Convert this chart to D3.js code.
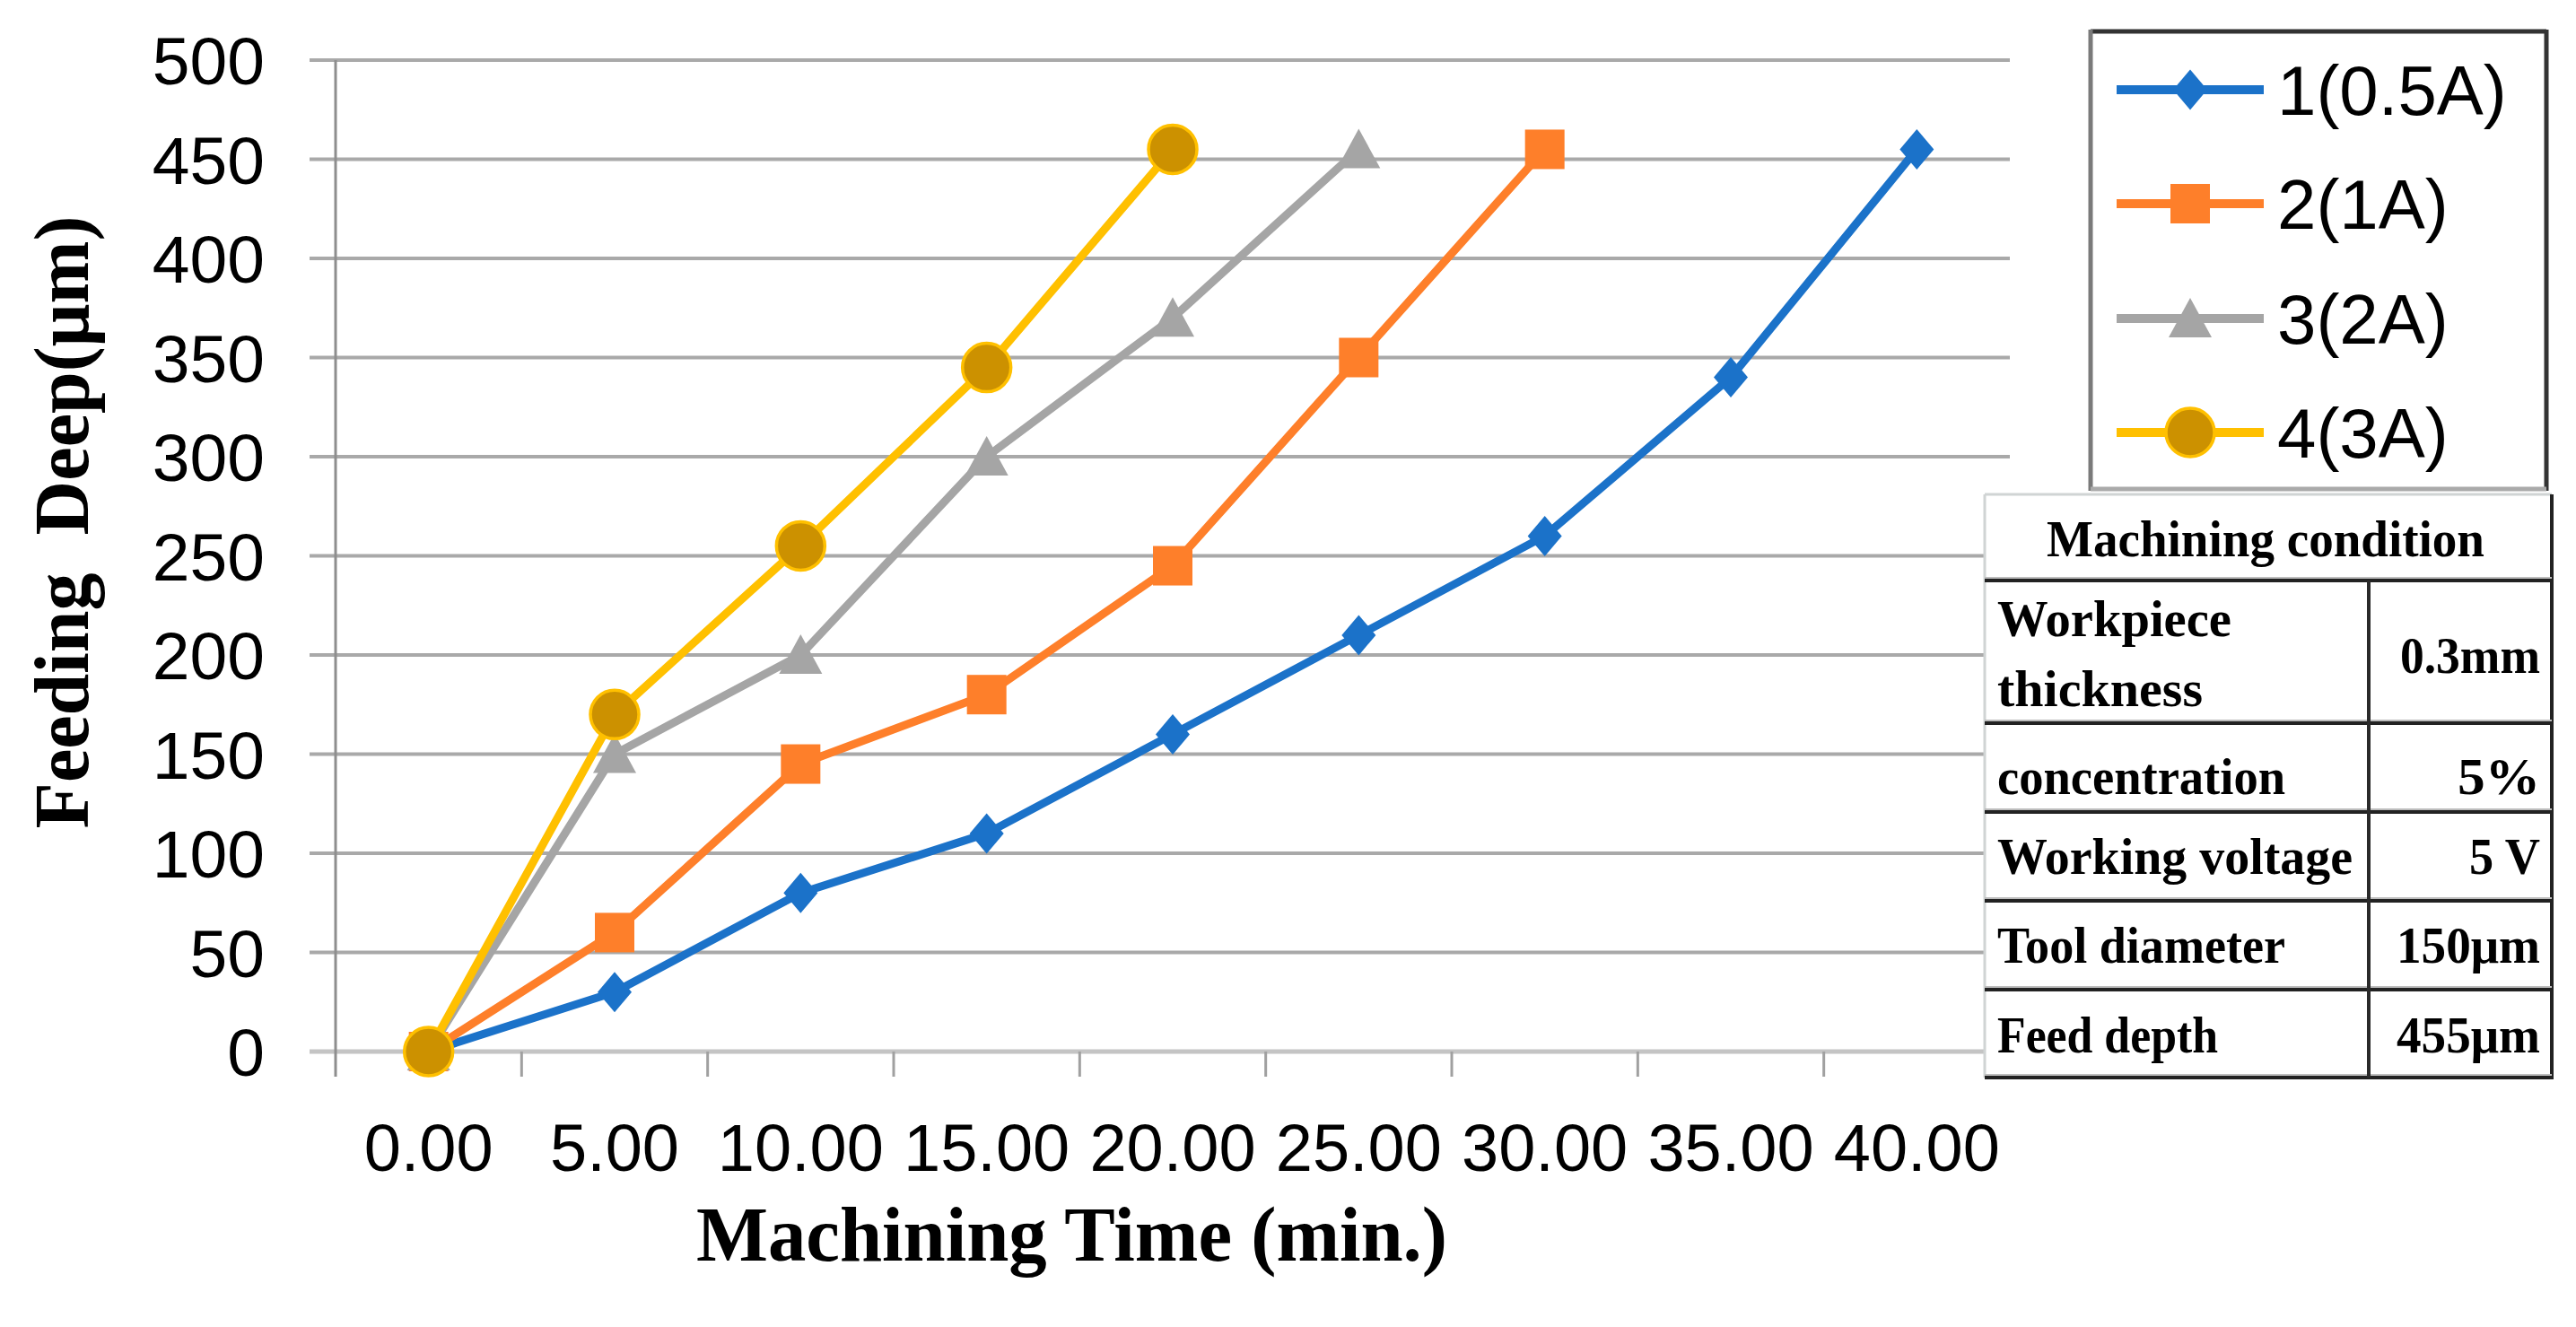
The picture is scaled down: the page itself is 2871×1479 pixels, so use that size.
<!DOCTYPE html>
<html><head><meta charset="utf-8">
<script src="https://cdn.jsdelivr.net/npm/d3@7/dist/d3.min.js"></script>
<style>body{margin:0;background:#fff}svg{display:block}</style>
</head><body>
<script>
// ---- data ----
const categories = ["0.00","5.00","10.00","15.00","20.00","25.00","30.00","35.00","40.00"];
const seriesNames = ["1(0.5A)","2(1A)","3(2A)","4(3A)"];
const series1 = [0,30,80,110,160,210,260,340,455];
const series2 = [0,60,145,180,245,350,455];
const series3 = [0,150,200,300,370,455];
const series4 = [0,170,255,345,455];
const yTickValues = [0,50,100,150,200,250,300,350,400,450,500];
const xTitle = "Machining Time (min.)";
const yTitle = "Feeding  Deep(\u03bcm)";
const tableHeader = "Machining condition";
const tableLabels = [["Workpiece","thickness"],["concentration"],["Working voltage"],["Tool diameter"],["Feed depth"]];
const tableValues = ["0.3mm","5%","5 V","150\u03bcm","455\u03bcm"];

// ---- layout ----
const W = 2871, H = 1479;
const plotL = 374, plotR = 2240, plotB = 1172, plotT = 67;
const svg = d3.select("body").append("svg").attr("width", W).attr("height", H);
svg.append("rect").attr("width", W).attr("height", H).attr("fill", "#fff");

const x = d3.scaleBand().domain(categories).range([plotL, plotR]).paddingInner(0).paddingOuter(0);
const y = d3.scaleLinear().domain([0, 500]).range([plotB, plotT]);
const cx = c => x(c) + x.bandwidth() / 2;

const sansFont = "'Liberation Sans', Arial, sans-serif";
const serifFont = "'Liberation Serif', 'Times New Roman', serif";

// gridlines
const grid = svg.append("g");
yTickValues.filter(v => v > 0).forEach(v => {
  grid.append("line").attr("x1", 345).attr("x2", plotR).attr("y1", y(v)).attr("y2", y(v))
    .attr("stroke", "#a9a9a9").attr("stroke-width", 4);
});
// baseline
grid.append("line").attr("x1", 345).attr("x2", plotR).attr("y1", y(0)).attr("y2", y(0))
  .attr("stroke", "#c4c4c4").attr("stroke-width", 5);
// y axis line
grid.append("line").attr("x1", plotL).attr("x2", plotL).attr("y1", plotT).attr("y2", plotB + 28)
  .attr("stroke", "#8e8e8e").attr("stroke-width", 3);
// x ticks at band boundaries
categories.forEach(c => {
  const bx = x(c) + x.bandwidth();
  grid.append("line").attr("x1", bx).attr("x2", bx).attr("y1", plotB).attr("y2", plotB + 28)
    .attr("stroke", "#a0a0a0").attr("stroke-width", 3);
});

// y tick labels
svg.append("g").selectAll("text").data(yTickValues).join("text")
  .attr("x", 295).attr("y", d => y(d) + 27).attr("text-anchor", "end")
  .attr("font-family", sansFont).attr("font-size", 75).attr("fill", "#000").text(d => d);
// x tick labels
svg.append("g").selectAll("text").data(categories).join("text")
  .attr("x", d => cx(d)).attr("y", 1305).attr("text-anchor", "middle")
  .attr("font-family", sansFont).attr("font-size", 74).attr("fill", "#000").text(d => d);

// axis titles
svg.append("text").attr("x", 776).attr("y", 1405)
  .attr("font-family", serifFont).attr("font-weight", "bold").attr("font-size", 86)
  .attr("textLength", 837).attr("lengthAdjust", "spacingAndGlyphs").text(xTitle);
svg.append("text").attr("transform", "translate(98,582) rotate(-90)")
  .attr("text-anchor", "middle").style("white-space", "pre")
  .attr("font-family", serifFont).attr("font-weight", "bold").attr("font-size", 86)
  .attr("textLength", 683).attr("lengthAdjust", "spacingAndGlyphs").text(yTitle);

// ---- series ----
const styles = [
  {color: "#1b72c9", shape: "diamond"},
  {color: "#fe7f2a", shape: "square"},
  {color: "#a5a5a5", shape: "triangle"},
  {color: "#ffc000", shape: "circle", fill: "#cc9100"}
];
const allSeries = [series1, series2, series3, series4];

function drawMarker(g, shape, s) {
  if (shape === "diamond") {
    g.append("path").attr("d", "M0,-22.5L19,0L0,22.5L-19,0Z").attr("fill", s.color);
  } else if (shape === "square") {
    g.append("rect").attr("x", -22).attr("y", -22).attr("width", 44).attr("height", 44).attr("fill", s.color);
  } else if (shape === "triangle") {
    g.append("path").attr("d", "M0,-23L24,21L-24,21Z").attr("fill", s.color);
  } else {
    g.append("circle").attr("r", 27).attr("fill", s.fill).attr("stroke", s.color).attr("stroke-width", 3.5);
  }
}

const line = d3.line().x((d, i) => cx(categories[i])).y(d => y(d));
allSeries.forEach((vals, k) => {
  const s = styles[k];
  const g = svg.append("g");
  g.append("path").attr("d", line(vals)).attr("fill", "none").attr("stroke", s.color)
    .attr("stroke-width", 9).attr("stroke-linejoin", "round");
  vals.forEach((v, i) => {
    const mg = g.append("g").attr("transform", `translate(${cx(categories[i])},${y(v)})`);
    drawMarker(mg, s.shape, s);
  });
});

// ---- legend ----
const lg = svg.append("g");
lg.append("rect").attr("x", 2330).attr("y", 35).attr("width", 508).attr("height", 510).attr("fill", "#fff");
lg.append("line").attr("x1", 2330).attr("x2", 2838).attr("y1", 35).attr("y2", 35).attr("stroke", "#333").attr("stroke-width", 5);
lg.append("line").attr("x1", 2838).attr("x2", 2838).attr("y1", 33).attr("y2", 547).attr("stroke", "#333").attr("stroke-width", 5);
lg.append("line").attr("x1", 2330).attr("x2", 2330).attr("y1", 33).attr("y2", 547).attr("stroke", "#7a7a7a").attr("stroke-width", 5);
lg.append("line").attr("x1", 2330).attr("x2", 2838).attr("y1", 545).attr("y2", 545).attr("stroke", "#aaaaaa").attr("stroke-width", 5);
const rowY = [100, 227, 355, 482];
seriesNames.forEach((name, k) => {
  const s = styles[k];
  lg.append("line").attr("x1", 2359).attr("x2", 2523).attr("y1", rowY[k]).attr("y2", rowY[k])
    .attr("stroke", s.color).attr("stroke-width", 10);
  const mg = lg.append("g").attr("transform", `translate(2441,${rowY[k]})`);
  drawMarker(mg, s.shape, s);
  lg.append("text").attr("x", 2538).attr("y", rowY[k] + 28)
    .attr("font-family", sansFont).attr("font-size", 78).attr("fill", "#000").text(name);
});

// ---- table ----
const tg = svg.append("g");
const tL = 2212, tR = 2844, tT = 551, colX = 2640;
const hLines = [647, 806, 905, 1004, 1103, 1201];
tg.append("rect").attr("x", tL).attr("y", tT).attr("width", tR - tL).attr("height", 1201 - tT).attr("fill", "#fff");
tg.append("line").attr("x1", tL).attr("x2", tR).attr("y1", tT).attr("y2", tT).attr("stroke", "#d0d4d4").attr("stroke-width", 3);
tg.append("line").attr("x1", tL).attr("x2", tL).attr("y1", tT).attr("y2", 1201).attr("stroke", "#d0d4d4").attr("stroke-width", 3);
tg.append("line").attr("x1", tR).attr("x2", tR).attr("y1", tT).attr("y2", 1203).attr("stroke", "#222").attr("stroke-width", 4);
hLines.forEach(hy => {
  tg.append("line").attr("x1", tL).attr("x2", tR).attr("y1", hy - 3).attr("y2", hy - 3).attr("stroke", "#bdbdbd").attr("stroke-width", 2);
  tg.append("line").attr("x1", tL).attr("x2", tR).attr("y1", hy).attr("y2", hy).attr("stroke", "#222").attr("stroke-width", 4);
});
tg.append("line").attr("x1", colX).attr("x2", colX).attr("y1", 647).attr("y2", 1201).attr("stroke", "#2a2a2a").attr("stroke-width", 4);

const tText = (txt, x0, yb, len, size) => tg.append("text").attr("x", x0).attr("y", yb)
  .attr("font-family", serifFont).attr("font-weight", "bold").attr("font-size", size || 56).attr("fill", "#000")
  .attr("textLength", len).attr("lengthAdjust", "spacingAndGlyphs").text(txt);

tText(tableHeader, 2281, 620, 488, 56);
const labelLayout = [
  [[709, 261], [787, 229]],
  [[885, 321]],
  [[974, 396]],
  [[1073, 321]],
  [[1173, 246]]
];
tableLabels.forEach((lines, r) => {
  lines.forEach((t, j) => tText(t, 2226, labelLayout[r][j][0], labelLayout[r][j][1]));
});
const valueLayout = [[750, 156], [885, 92], [974, 79], [1073, 160], [1173, 160]];
tableValues.forEach((t, r) => tText(t, 2831 - valueLayout[r][1], valueLayout[r][0], valueLayout[r][1]));
</script>
</body></html>
